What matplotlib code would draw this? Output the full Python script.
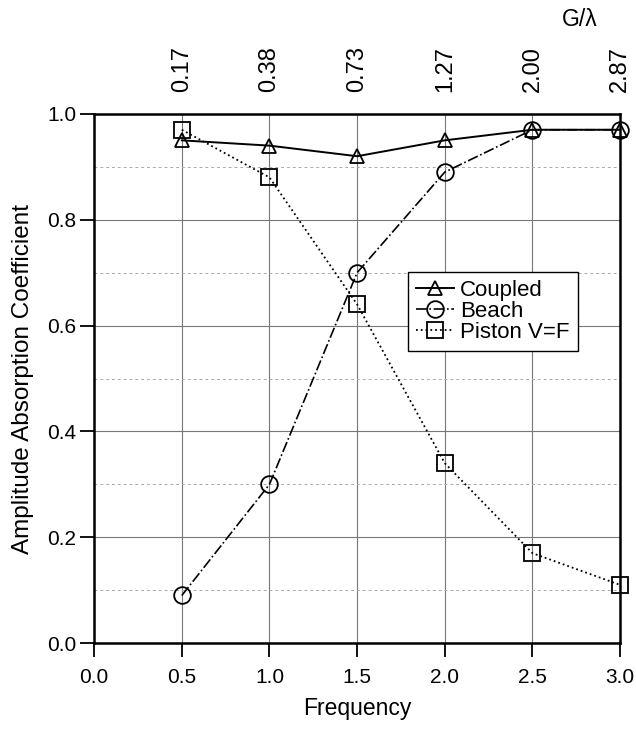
import matplotlib
matplotlib.use("Agg")
import matplotlib.pyplot as plt
from matplotlib.ticker import MultipleLocator

plt.rcParams['font.family'] = ['Liberation Sans', 'DejaVu Sans']

# data
freq = [0.5, 1.0, 1.5, 2.0, 2.5, 3.0]
coupled = [0.95, 0.94, 0.92, 0.95, 0.97, 0.97]
beach = [0.09, 0.30, 0.70, 0.89, 0.97, 0.97]
piston = [0.97, 0.88, 0.64, 0.34, 0.17, 0.11]
g_lambda = ["0.17", "0.38", "0.73", "1.27", "2.00", "2.87"]

fig = plt.figure(figsize=(6.36, 7.30), dpi=100)
ax = fig.add_axes([0.148, 0.119, 0.827, 0.725])

ax.plot(freq, coupled, color="black", lw=1.4, ls="-", marker="^", ms=10,
        mfc="none", mec="black", mew=1.3, label="Coupled", clip_on=False)
ax.plot(freq, beach, color="black", lw=1.2, ls="-.", marker="o", ms=12,
        mfc="none", mec="black", mew=1.3, label="Beach", clip_on=False)
ax.plot(freq, piston, color="black", lw=1.3, ls=":", marker="s", ms=12,
        mfc="none", mec="black", mew=1.3, label="Piston V=F", clip_on=False)

ax.set_xlim(0, 3.0)
ax.set_ylim(0, 1.0)
ax.yaxis.set_minor_locator(MultipleLocator(0.1))
ax.set_xticks([0.0, 0.5, 1.0, 1.5, 2.0, 2.5, 3.0])
ax.set_xticklabels(["0.0", "0.5", "1.0", "1.5", "2.0", "2.5", "3.0"])
ax.set_yticks([0.0, 0.2, 0.4, 0.6, 0.8, 1.0])
ax.set_yticklabels(["0.0", "0.2", "0.4", "0.6", "0.8", "1.0"])

ax.grid(True, which="major", color="#777777", lw=0.8)
ax.grid(True, which="minor", axis="y", color="#aaaaaa", lw=0.7, ls=(0, (3, 3)))
ax.tick_params(which="major", direction="out", length=10, width=1.3,
               labelsize=15)
ax.tick_params(axis="x", pad=8)
ax.tick_params(axis="y", pad=3)
ax.tick_params(which="minor", length=0)
for s in ax.spines.values():
    s.set_linewidth(1.8)

ax.set_xlabel("Frequency", fontsize=16.5, labelpad=7)
ax.set_ylabel("Amplitude Absorption Coefficient", fontsize=17.5, labelpad=9)

top = ax.twiny()
top.set_xlim(ax.get_xlim())
top.set_xticks(freq)
top.set_xticklabels(g_lambda, rotation=90, fontsize=17)
top.tick_params(length=0, pad=16)
for s in top.spines.values():
    s.set_visible(False)
ax.text(0.924, 1.178, "G/\u03bb", transform=ax.transAxes, fontsize=16.5,
        ha="center", va="center")

leg = ax.legend(loc="upper left", bbox_to_anchor=(0.597, 0.701), fontsize=16,
                frameon=True, fancybox=False, edgecolor="black", framealpha=1,
                handlelength=1.7, handletextpad=0.3, borderpad=0.35,
                labelspacing=0.0, borderaxespad=0)
leg.get_frame().set_linewidth(1.0)

fig.savefig("out.png", dpi=100)
